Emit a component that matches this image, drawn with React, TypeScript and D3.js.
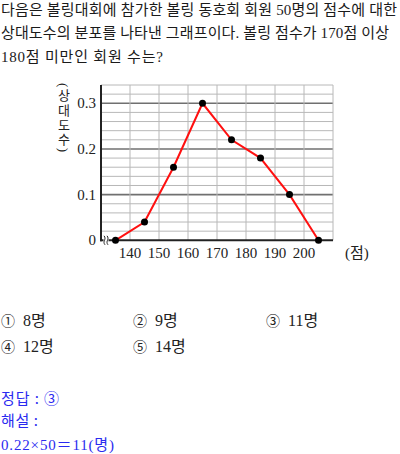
import React, { useEffect, useRef } from "react";
import * as d3 from "d3";

const questionLines = [
  "다음은 볼링대회에 참가한 볼링 동호회 회원 50명의 점수에 대한",
  "상대도수의 분포를 나타낸 그래프이다. 볼링 점수가 170점 이상",
  "180점 미만인 회원 수는?",
];
const choiceMarks = ["①", "②", "③", "④", "⑤"];
const choiceTexts = ["8명", "9명", "11명", "12명", "14명"];
const answerLines = ["정답 : ③", "해설 :", "0.22×50＝11(명)"];

const scores = [135, 145, 155, 165, 175, 185, 195, 205];
const relFreq = [0, 0.04, 0.16, 0.3, 0.22, 0.18, 0.1, 0];
const xTicks = [140, 150, 160, 170, 180, 190, 200];
const yTicks = [0, 0.1, 0.2, 0.3];
const yTickLabels = ["0", "0.1", "0.2", "0.3"];
const yTitle = "(상대도수)";

const FONT = "'Liberation Serif', 'Noto Sans CJK KR', serif";
const SANS = "'Noto Sans CJK KR', sans-serif";

export default function App() {
  const ref = useRef<SVGSVGElement>(null);

  useEffect(() => {
    document.body.style.margin = "0";
    const svg = d3.select(ref.current);
    svg.selectAll("*").remove();

    // Question text
    const qWidths = [396, 388, 162];
    const qBase = [15, 38, 62];
    questionLines.forEach((t, i) => {
      svg
        .append("text")
        .attr("x", 1)
        .attr("y", qBase[i])
        .attr("font-family", FONT)
        .attr("font-size", 15)
        .attr("fill", "#1a1a1a")
        .attr("textLength", qWidths[i])
        .attr("lengthAdjust", "spacing")
        .text(t);
    });

    const x = d3.scaleLinear().domain([130, 210]).range([101, 333]);
    const y = d3.scaleLinear().domain([0, 0.34]).range([240.3, 85]);

    const g = svg.append("g");
    // horizontal grid
    const hLines = d3.range(1, 18).map((i) => i * 0.02);
    hLines.forEach((v, i) => {
      const major = (i + 1) % 5 === 0;
      g.append("line")
        .attr("x1", x(130))
        .attr("x2", x(210))
        .attr("y1", y(v))
        .attr("y2", y(v))
        .attr("stroke", major ? "#707070" : "#b8b8b8")
        .attr("stroke-width", major ? 1.6 : 1);
    });
    // vertical grid
    [...xTicks, 210].forEach((v) => {
      g.append("line")
        .attr("x1", x(v))
        .attr("x2", x(v))
        .attr("y1", y(0))
        .attr("y2", y(0.34))
        .attr("stroke", "#b8b8b8")
        .attr("stroke-width", 1);
    });
    // axes
    g.append("line")
      .attr("x1", x(130))
      .attr("x2", x(130))
      .attr("y1", y(0.34))
      .attr("y2", y(0) + 1)
      .attr("stroke", "#222")
      .attr("stroke-width", 2);
    g.append("line")
      .attr("x1", x(130) - 1)
      .attr("x2", x(210))
      .attr("y1", y(0))
      .attr("y2", y(0))
      .attr("stroke", "#222")
      .attr("stroke-width", 2);

    // break symbol
    const bx = x(130) + 5;
    const by = y(0);
    g.append("rect")
      .attr("x", bx - 2.5)
      .attr("y", by - 1.5)
      .attr("width", 5)
      .attr("height", 3)
      .attr("fill", "#fff");
    [-1, 2].forEach((dx) => {
      g.append("path")
        .attr(
          "d",
          `M${bx + dx},${by + 4.5} C${bx + dx - 3},${by + 1} ${bx + dx + 2},${by - 1} ${bx + dx - 1},${by - 4.5}`
        )
        .attr("fill", "none")
        .attr("stroke", "#222")
        .attr("stroke-width", 1);
    });

    // tick labels
    yTicks.forEach((v, i) => {
      g.append("text")
        .attr("x", 96)
        .attr("y", y(v) + 5)
        .attr("text-anchor", "end")
        .attr("font-family", FONT)
        .attr("font-size", 15)
        .attr("fill", "#222")
        .text(yTickLabels[i]);
    });
    xTicks.forEach((v) => {
      g.append("text")
        .attr("x", x(v))
        .attr("y", 258)
        .attr("text-anchor", "middle")
        .attr("font-family", FONT)
        .attr("font-size", 15)
        .attr("fill", "#222")
        .text(String(v));
    });
    g.append("text")
      .attr("x", 345)
      .attr("y", 258)
      .attr("font-family", FONT)
      .attr("font-size", 15)
      .attr("fill", "#222")
      .text("(점)");

    // y title (vertical)
    g.append("text")
      .attr("x", 63)
      .attr("y", 83)
      .style("writing-mode", "vertical-rl")
      .attr("font-family", FONT)
      .attr("font-size", 13)
      .attr("fill", "#222")
      .attr("textLength", 69)
      .attr("lengthAdjust", "spacing")
      .text(yTitle);

    // line
    const pts = scores.map((s, i) => [s, relFreq[i]] as [number, number]);
    const line = d3
      .line<[number, number]>()
      .x((d) => x(d[0]))
      .y((d) => y(d[1]));
    g.append("path")
      .attr("d", line(pts))
      .attr("fill", "none")
      .attr("stroke", "#ff1010")
      .attr("stroke-width", 2);
    g.selectAll("circle.pt")
      .data(pts)
      .enter()
      .append("circle")
      .attr("cx", (d) => x(d[0]))
      .attr("cy", (d) => y(d[1]))
      .attr("r", 3.5)
      .attr("fill", "#000");

    // choices
    const cx = [1, 133, 266, 1, 133];
    const cy = [326, 326, 326, 352, 352];
    choiceMarks.forEach((c, i) => {
      svg
        .append("text")
        .attr("x", cx[i])
        .attr("y", cy[i])
        .attr("font-family", SANS)
        .attr("font-size", 14)
        .attr("fill", "#222")
        .text(c);
      svg
        .append("text")
        .attr("x", cx[i] + 22)
        .attr("y", cy[i])
        .attr("font-family", FONT)
        .attr("font-size", 16)
        .attr("fill", "#222")
        .text(choiceTexts[i]);
    });

    // answer
    const ay = [404, 426, 450];
    const aw = [58, 37, 113];
    answerLines.forEach((t, i) => {
      svg
        .append("text")
        .attr("x", 1)
        .attr("y", ay[i])
        .attr("font-family", i === 2 ? FONT : SANS)
        .attr("font-size", 15)
        .attr("fill", "#2a2af0")
        .attr("textLength", aw[i])
        .attr("lengthAdjust", "spacing")
        .text(t);
    });
  }, []);

  return (
    <svg
      ref={ref}
      width={400}
      height={454}
      style={{ position: "absolute", left: 0, top: 0, background: "#fff" }}
    />
  );
}
